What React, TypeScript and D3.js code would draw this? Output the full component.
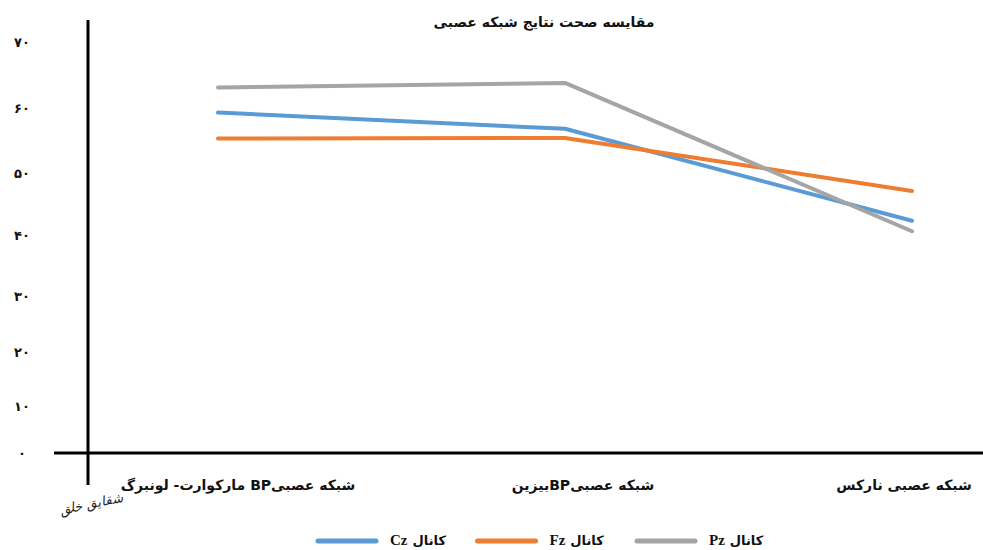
import * as d3 from "d3";

const width = 983;
const height = 550;

// categories (x axis), left to right
const categories = [
  "شبکه عصبیBP مارکوارت- لونبرگ",
  "شبکه عصبیBPبیزین",
  "شبکه عصبی نارکس",
];

// series values
const cz = [59.3, 56.8, 42.3];
const fz = [55.3, 55.4, 47.1];
const pz = [63.1, 63.8, 40.6];

const series = [
  { name: "Cz", values: cz, color: "#5b9bd5" },
  { name: "Fz", values: fz, color: "#ed7d31" },
  { name: "Pz", values: pz, color: "#a5a5a5" },
];

// y tick values and their labels (Persian digits)
const yTicks = [0, 10, 20, 30, 40, 50, 60, 70];
const yTickLabels = ["۰", "۱۰", "۲۰", "۳۰", "۴۰", "۵۰", "۶۰", "۷۰"];

const title = "مقایسه صحت نتایج شبکه عصبی";
const legendPrefix = "کانال";

const fontFa = "'DejaVu Sans', 'Noto Sans', sans-serif";

export default function App() {
  const x = d3.scalePoint<string>().domain(categories).range([218, 912]);
  // the original axis labels are spaced unevenly, so the scale is piecewise
  const y = d3
    .scaleLinear()
    .domain(yTicks)
    .range([453, 406, 352, 296, 235, 173, 108, 42]);

  const line = d3
    .line<number>()
    .x((_, i) => x(categories[i]) ?? 0)
    .y((d) => y(d));

  const axisX = 88;
  const axisY = y(0);

  const legendX = d3.scalePoint<string>().domain(series.map((s) => s.name)).range([318, 637]);

  return (
    <svg
      width={width}
      height={height}
      viewBox={`0 0 ${width} ${height}`}
      style={{ position: "absolute", left: 0, top: 0, background: "#fff" }}
    >
      <text
        x={544}
        y={27}
        textAnchor="middle"
        direction="rtl"
        fontFamily={fontFa}
        fontSize={14}
        fontWeight="bold"
        fill="#111"
      >
        {title}
      </text>

      {/* y tick labels */}
      {yTicks.map((t, i) => (
        <text
          key={t}
          x={22}
          y={y(t)}
          dy="0.35em"
          textAnchor="middle"
          fontFamily={fontFa}
          fontSize={13}
          fontWeight="bold"
          fill="#111"
        >
          {yTickLabels[i]}
        </text>
      ))}

      {/* axes */}
      <line x1={axisX} x2={axisX} y1={20} y2={485} stroke="#000" strokeWidth={3} />
      <line x1={54} x2={width} y1={axisY} y2={axisY} stroke="#000" strokeWidth={3} />

      {/* x labels */}
      {categories.map((c, i) => (
        <text
          key={c}
          x={[238, 583, 904][i]}
          y={490}
          textAnchor="middle"
          direction="rtl"
          fontFamily={fontFa}
          fontSize={14}
          fontWeight="bold"
          fill="#111"
        >
          {c}
        </text>
      ))}

      {/* signature */}
      <text
        x={92}
        y={508}
        textAnchor="middle"
        direction="rtl"
        fontFamily="'DejaVu Serif', serif"
        fontStyle="italic"
        fontSize={13}
        fill="#222"
        transform="rotate(-12 92 508)"
      >
        شقایق خلق
      </text>

      {/* series lines */}
      {series.map((s) => (
        <path
          key={s.name}
          d={line(s.values) ?? ""}
          fill="none"
          stroke={s.color}
          strokeWidth={4}
          strokeLinecap="round"
          strokeLinejoin="round"
        />
      ))}

      {/* legend */}
      {series.map((s) => {
        const lx = legendX(s.name) ?? 0;
        return (
          <g key={s.name}>
            <line
              x1={lx}
              x2={lx + 58}
              y1={541}
              y2={541}
              stroke={s.color}
              strokeWidth={5}
              strokeLinecap="round"
            />
            <text
              x={lx + 72}
              y={545}
              fontFamily={fontFa}
              fontSize={13}
              fontWeight="bold"
              fill="#111"
            >
              <tspan fontFamily="'Liberation Serif', serif" fontSize={15}>{s.name}</tspan>
              <tspan dx={5}>{legendPrefix}</tspan>
            </text>
          </g>
        );
      })}
    </svg>
  );
}
